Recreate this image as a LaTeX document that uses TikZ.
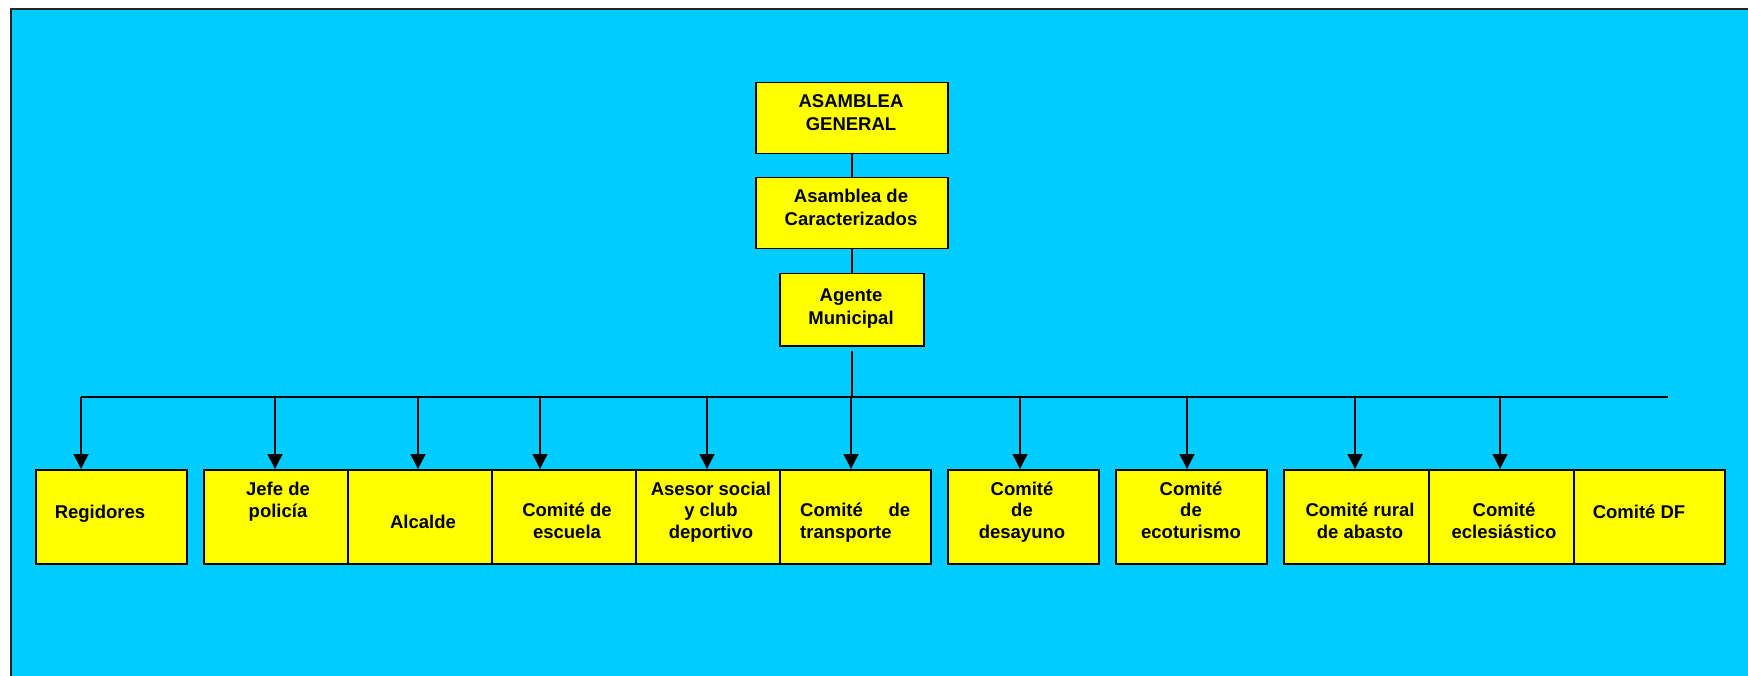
\documentclass[tikz,border=0pt]{standalone}
\usepackage{fontspec}
\setmainfont{Liberation Sans}
\usetikzlibrary{arrows.meta}
\definecolor{skyfill}{RGB}{0,204,255}
\definecolor{boxfill}{RGB}{255,255,0}

\begin{document}
\begin{tikzpicture}[x=1pt,y=-1pt,
  box/.style={draw=black, fill=boxfill, line width=1.5pt, minimum width=151pt,
    minimum height=94pt, inner sep=0pt, anchor=north west},
  topbox/.style={box, minimum width=192pt, minimum height=71pt},
  lbl/.style={font=\bfseries\fontsize{18.5}{21.5}\selectfont, align=center, inner sep=0pt, anchor=base},
  toplbl/.style={lbl, font=\bfseries\fontsize{18.5}{23}\selectfont},
  link/.style={line width=1.5pt},
  arr/.style={link, -{Triangle[width=15pt,length=15pt]}},
]
% page and backdrop
\clip (0,0) rectangle (1748,676);
\fill[white] (0,0) rectangle (1748,676);
\draw[fill=skyfill, draw=black!85, line width=2pt] (11,9) rectangle (1770,700);

% upper chain (labels sit on the baseline of their last line)
\node[topbox] (ag)  at (755,82)  {};
\node[topbox] (ac)  at (755,177) {};
\node[box, minimum width=144pt, minimum height=72pt] (am) at (779,273) {};
\node[toplbl] (tag) at (851,131) {ASAMBLEA\\GENERAL};
\node[toplbl] (tac) at (851,226) {Asamblea de\\Caracterizados};
\node[toplbl] (tam) at (851,324) {Agente\\Municipal};

\draw[link] (ag.south) -- (ac.north);
\draw[link] (ac.south) -- (am.north);

% distribution bar
\coordinate (barL) at (81,397);
\coordinate (barR) at (1668,397);
\draw[link, shorten <=4pt] (am.south) -- (am.south |- barL);
\draw[link] (barL) -- (barR);

% lower row of committees
\node[box] (b1)  at (35,469)   {};
\node[box] (b2)  at (203,469)  {};
\node[box] (b3)  at (347,469)  {};
\node[box] (b4)  at (491,469)  {};
\node[box] (b5)  at (635,469)  {};
\node[box] (b6)  at (779,469)  {};
\node[box] (b7)  at (947,469)  {};
\node[box] (b8)  at (1115,469) {};
\node[box] (b9)  at (1283,469) {};
\node[box] (b10) at (1428,469) {};
\node[box] (b11) at (1573,469) {};

\node[lbl] (t1)  at (100,518)  {Regidores};
\node[lbl] (t2)  at (278,517)  {Jefe de\\policía};
\node[lbl] (t3)  at (423,528)  {Alcalde};
\node[lbl] (t4)  at (567,538)  {Comité de\\escuela};
\node[lbl] (t5)  at (711,538)  {Asesor social\\y club\\deportivo};
\node[lbl, align=left, anchor=base west] (t6) at (800,538) {\makebox[110pt][s]{Comité de}\\transporte};
\node[lbl] (t7)  at (1022,538) {Comité\\de\\desayuno};
\node[lbl] (t8)  at (1191,538) {Comité\\de\\ecoturismo};
\node[lbl] (t9)  at (1360,538) {Comité rural\\de abasto};
\node[lbl] (t10) at (1504,538) {Comité\\eclesiástico};
\node[lbl] (t11) at (1639,518) {Comité DF};

% drops from the bar
\coordinate (d1)  at (81,397);
\coordinate (d2)  at (275,397);
\coordinate (d3)  at (418,397);
\coordinate (d4)  at (540,397);
\coordinate (d5)  at (707,397);
\coordinate (d6)  at (851,397);
\coordinate (d7)  at (1020,397);
\coordinate (d8)  at (1187,397);
\coordinate (d9)  at (1355,397);
\coordinate (d10) at (1500,397);
\draw[arr] (d1)  -- (d1 |- b1.north);
\draw[arr] (d2)  -- (d2 |- b2.north);
\draw[arr] (d3)  -- (d3 |- b3.north);
\draw[arr] (d4)  -- (d4 |- b4.north);
\draw[arr] (d5)  -- (d5 |- b5.north);
\draw[arr] (d6)  -- (d6 |- b6.north);
\draw[arr] (d7)  -- (d7 |- b7.north);
\draw[arr] (d8)  -- (d8 |- b8.north);
\draw[arr] (d9)  -- (d9 |- b9.north);
\draw[arr] (d10) -- (d10 |- b10.north);
\end{tikzpicture}
\end{document}
